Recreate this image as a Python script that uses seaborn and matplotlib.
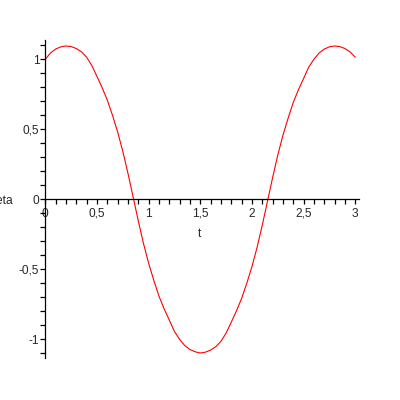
import numpy as np
import pandas as pd
import seaborn as sns
import matplotlib
matplotlib.use("Agg")
import matplotlib.pyplot as plt
from matplotlib.ticker import MultipleLocator, FuncFormatter

# values, t every 0.05 from 0 to 3
t = [i * 0.05 for i in range(61)]
theta = [
    1.000, 1.045, 1.073, 1.089, 1.095, 1.091, 1.077, 1.053, 1.015, 0.956,
    0.878, 0.798, 0.709, 0.601, 0.482, 0.344, 0.186, 0.017, -0.153, -0.314,
    -0.456, -0.578, -0.691, -0.782, -0.862, -0.944, -1.000, -1.045, -1.073, -1.089,
    -1.098, -1.092, -1.077, -1.053, -1.015, -0.956, -0.878, -0.798, -0.709, -0.601,
    -0.482, -0.344, -0.186, -0.017, 0.153, 0.314, 0.456, 0.578, 0.691, 0.782,
    0.862, 0.944, 1.000, 1.045, 1.073, 1.089, 1.095, 1.091, 1.077, 1.053,
    1.015,
]
x_major = [0, 0.5, 1, 1.5, 2, 2.5, 3]
y_major = [-1, -0.5, 0, 0.5, 1]

df = pd.DataFrame({"t": t, "theta": theta})

sns.set_style("white")
plt.rcParams["font.family"] = ["Liberation Sans", "DejaVu Sans"]
fs = 8.6

fig = plt.figure(figsize=(4, 4), dpi=100)
ax = fig.add_axes([45.3 / 400, 1 - 358 / 400, (359 - 45.3) / 400, (358 - 39.7) / 400])

sns.lineplot(data=df, x="t", y="theta", color="red", linewidth=0.8, ax=ax)

ax.set_xlim(0, (359 - 45.3) / 103.3)
ax.set_ylim((199.3 - 358) / 140, (199.3 - 39.7) / 140)

# maple style axes crossing at the origin
ax.spines["left"].set_position(("data", 0))
ax.spines["bottom"].set_position(("data", 0))
ax.spines["top"].set_visible(False)
ax.spines["right"].set_visible(False)
for side in ["left", "bottom"]:
    ax.spines[side].set_color("black")
    ax.spines[side].set_linewidth(0.9)

fmt = FuncFormatter(lambda v, pos: ("%g" % v).replace(".", ","))
ax.set_xticks(x_major)
ax.set_yticks(y_major)
ax.xaxis.set_major_formatter(fmt)
ax.yaxis.set_major_formatter(fmt)
ax.xaxis.set_minor_locator(MultipleLocator(0.1))
ax.yaxis.set_minor_locator(MultipleLocator(0.1))
ax.tick_params(axis="x", which="both", direction="out", length=3.6, width=0.9,
               color="black", pad=2.6, labelsize=fs)
ax.tick_params(axis="y", which="both", direction="out", length=3.6, width=0.9,
               color="black", pad=0.8, labelsize=fs)
ax.tick_params(which="minor", labelbottom=False, labelleft=False)
ax.xaxis.set_ticks_position("bottom")
ax.yaxis.set_ticks_position("left")

ax.set_xlabel("")
ax.set_ylabel("")
fig.text(199.3 / 400, 1 - 234 / 400, "t", ha="center", va="center", fontsize=fs)
fig.text(13.3 / 400, 1 - 200.7 / 400, "theta", ha="right", va="center", fontsize=fs)

fig.savefig("out.png", dpi=100)
